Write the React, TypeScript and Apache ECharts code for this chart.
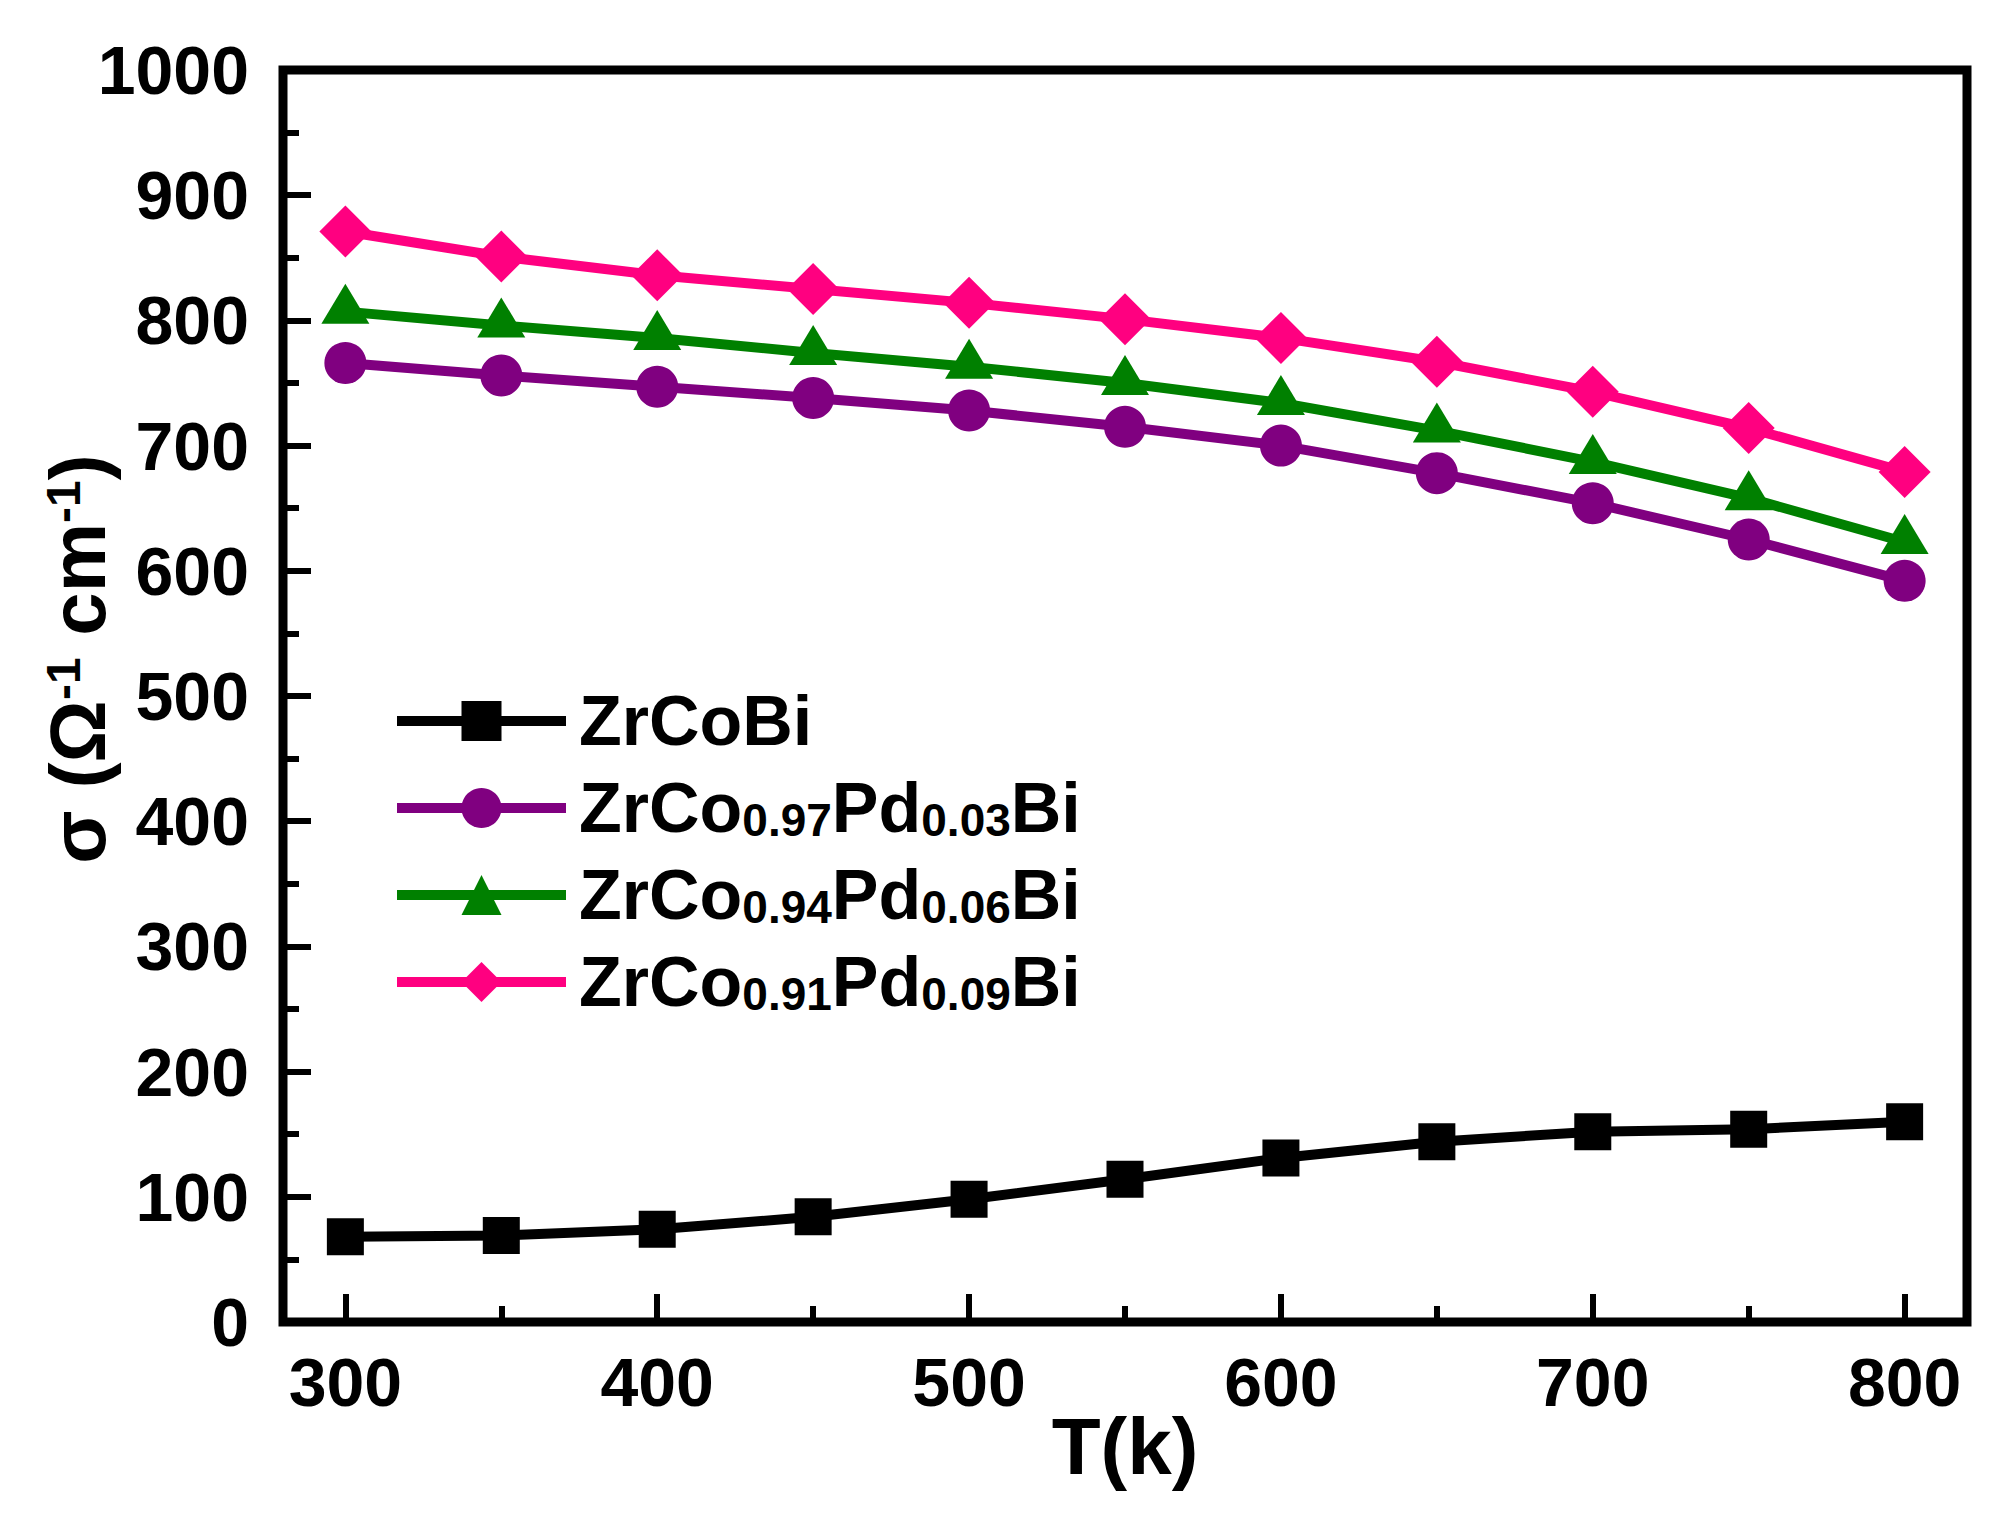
import React, { useEffect, useRef } from "react";
import * as echarts from "echarts";

const temperatures = [300, 350, 400, 450, 500, 550, 600, 650, 700, 750, 800];
const zrCoBi = [68, 69, 74, 84, 98, 114, 131, 144, 152, 154, 160];
const pd003 = [766, 756, 747, 738, 728, 715, 700, 678, 654, 625, 592];
const pd006 = [807, 796, 786, 774, 763, 750, 734, 712, 687, 658, 623];
const pd009 = [871, 851, 836, 825, 814, 801, 786, 767, 743, 714, 679];

const seriesNames = ["ZrCoBi", "ZrCo0.97Pd0.03Bi", "ZrCo0.94Pd0.06Bi", "ZrCo0.91Pd0.09Bi"];
const xMajorTicks = [300, 400, 500, 600, 700, 800];
const xMinorTicks = [350, 450, 550, 650, 750];
const xTitle = "T(k)";

const FONT = '"Liberation Sans", Arial, Helvetica, sans-serif';

export default function App() {
  const ref = useRef<HTMLDivElement>(null);

  useEffect(() => {
    const chart = echarts.init(ref.current as HTMLDivElement, null, { renderer: "svg" });
    const pair = (vals: number[]) => temperatures.map((t, i) => [t, vals[i]]);
    const legendFormatter = (name: string) =>
      name
        .split(/(\d\.\d\d)/)
        .filter((p) => p.length > 0)
        .map((p) => (/^\d\.\d\d$/.test(p) ? `{s|${p}}` : `{m|${p}}`))
        .join("");

    const tickStyle = { color: "#000", width: 6 };
    const labelStyle = {
      color: "#000",
      fontFamily: FONT,
      fontWeight: "bold" as const,
      fontSize: 68,
      formatter: (v: number) => String(v),
    };

    const mk = (
      name: string,
      vals: number[],
      color: string,
      symbol: string,
      symbolSize: number | number[],
      extra: any = {}
    ) => ({
      name,
      type: "line",
      xAxisIndex: 0,
      yAxisIndex: 0,
      data: pair(vals),
      symbol,
      symbolSize,
      showSymbol: true,
      itemStyle: { color },
      lineStyle: { color, width: 10 },
      emphasis: { disabled: true },
      ...extra,
    });

    chart.setOption({
      animation: false,
      backgroundColor: "#fff",
      grid: {
        left: 283,
        top: 70,
        width: 1684,
        height: 1252,
        show: true,
        borderColor: "#000",
        borderWidth: 9,
        backgroundColor: "transparent",
      },
      xAxis: [
        {
          type: "value",
          min: 280,
          max: 820,
          axisLine: { show: false },
          splitLine: { show: false },
          axisTick: {
            show: true,
            inside: true,
            length: 28,
            customValues: xMajorTicks,
            lineStyle: tickStyle,
          },
          axisLabel: { ...labelStyle, margin: 26, customValues: xMajorTicks },
          name: xTitle,
          nameLocation: "middle",
          nameGap: 84,
          nameMoveOverlap: false,
          nameTextStyle: { color: "#000", fontFamily: FONT, fontWeight: "bold", fontSize: 80 },
        },
        {
          type: "value",
          min: 280,
          max: 820,
          position: "bottom",
          axisLine: { show: false },
          splitLine: { show: false },
          axisLabel: { show: false },
          axisTick: {
            show: true,
            inside: true,
            length: 16,
            customValues: xMinorTicks,
            lineStyle: tickStyle,
          },
        },
      ],
      yAxis: {
        type: "value",
        min: 0,
        max: 1000,
        interval: 100,
        axisLine: { show: false },
        splitLine: { show: false },
        axisTick: { show: true, inside: true, length: 28, lineStyle: tickStyle },
        minorTick: { show: true, splitNumber: 2, length: 16, lineStyle: tickStyle },
        minorSplitLine: { show: false },
        axisLabel: { ...labelStyle, margin: 34 },
      },
      legend: {
        orient: "vertical",
        left: 392,
        top: 686,
        padding: 0,
        itemWidth: 169,
        itemHeight: 50,
        itemGap: 17,
        data: seriesNames,
        formatter: legendFormatter,
        lineStyle: { width: 10 },
        textStyle: {
          color: "#000",
          fontFamily: FONT,
          fontWeight: "bold",
          fontSize: 70,
          padding: [0, 0, 0, 8],
          rich: {
            m: {
              color: "#000",
              fontFamily: FONT,
              fontWeight: "bold",
              fontSize: 70,
              lineHeight: 70,
              verticalAlign: "bottom",
            },
            s: {
              color: "#000",
              fontFamily: FONT,
              fontWeight: "bold",
              fontSize: 46,
              lineHeight: 53,
              verticalAlign: "bottom",
            },
          },
        },
      },
      graphic: [
        {
          type: "text",
          x: 78,
          y: 659,
          rotation: Math.PI / 2,
          style: {
            text: "{m|σ (Ω}{p|-1}{m| cm}{p|-1}{m|)}",
            align: "center",
            verticalAlign: "middle",
            fill: "#000",
            rich: {
              m: { fontFamily: FONT, fontWeight: "bold", fontSize: 78, lineHeight: 78, fill: "#000" },
              p: {
                fontFamily: FONT,
                fontWeight: "bold",
                fontSize: 48,
                lineHeight: 18,
                verticalAlign: "top",
                fill: "#000",
              },
            },
          },
        },
      ],
      series: [
        mk(seriesNames[0], zrCoBi, "#000000", "rect", 37),
        mk(seriesNames[1], pd003, "#800080", "circle", 42),
        mk(seriesNames[2], pd006, "#008000", "triangle", [48, 40], { symbolOffset: [0, -8] }),
        mk(seriesNames[3], pd009, "#FF0080", "diamond", [52, 52]),
      ],
    });

    return () => chart.dispose();
  }, []);

  return (
    <div
      ref={ref}
      style={{ position: "fixed", left: 0, top: 0, width: 2004, height: 1525, background: "#fff" }}
    />
  );
}
